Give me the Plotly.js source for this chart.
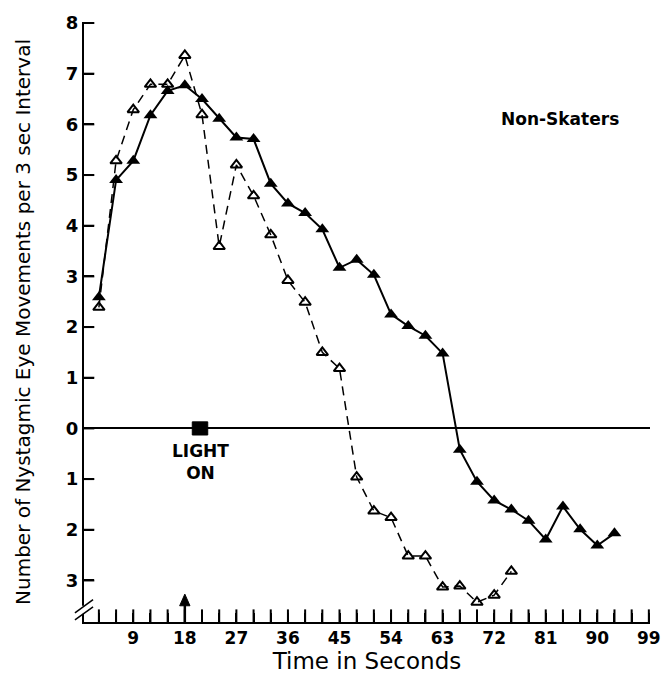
<!DOCTYPE html>
<html>
<head>
<meta charset="utf-8">
<script src="https://cdn.plot.ly/plotly-3.0.1.min.js"></script>
<style>html,body{margin:0;padding:0;background:#fff}#chart{width:669px;height:688px}</style>
</head>
<body>
<div id="chart"></div>
<script>
// Time (s) for each 3-second interval
const timeFilled = [3,6,9,12,15,18,21,24,27,30,33,36,39,42,45,48,51,54,57,60,63,66,69,72,75,78,81,84,87,90,93];
// Filled triangles, solid line
const valuesFilled = [2.59,4.90,5.28,6.18,6.66,6.77,6.50,6.11,5.74,5.71,4.83,4.44,4.25,3.93,3.17,3.33,3.03,2.25,2.02,1.83,1.48,-0.42,-1.05,-1.42,-1.60,-1.82,-2.19,-1.54,-1.99,-2.31,-2.07];
const timeOpen = [3,6,9,12,15,18,21,24,27,30,33,36,39,42,45,48,51,54,57,60,63,66,69,72,75];
// Open triangles, dashed line
const valuesOpen = [2.39,5.28,6.29,6.79,6.79,7.36,6.19,3.59,5.20,4.59,3.82,2.92,2.49,1.50,1.18,-0.96,-1.63,-1.76,-2.52,-2.52,-3.13,-3.11,-3.43,-3.29,-2.82];

const yTickVals = [8,7,6,5,4,3,2,1,0,-1,-2,-3];
const yTickText = ['8','7','6','5','4','3','2','1','0','1','2','3'];
const xTickVals = [3,6,9,12,15,18,21,24,27,30,33,36,39,42,45,48,51,54,57,60,63,66,69,72,75,78,81,84,87,90,93,96,99];
const xTickText = ['','','9','','','18','','','27','','','36','','','45','','','54','','','63','','','72','','','81','','','90','','','99'];

const lightOn = {x0: 19.3, x1: 22.0, label: 'LIGHT<br>ON'};
const arrowTime = 18;
const groupLabel = 'Non-Skaters';

const X0 = 0.4, X1 = 99.2;
const Y0 = -3.82, Y1 = 8.02;
const yp = v => (v - Y0) / (Y1 - Y0);
const yTickLenData = 1.8; // about 10 px inward along the time axis

// short horizontal segments for the count-axis ticks, built from the tick array
const yTickSegX = [], yTickSegY = [];
yTickVals.forEach(v => { yTickSegX.push(X0, X0 + yTickLenData, null); yTickSegY.push(v, v, null); });

const traces = [
  {
    x: timeOpen, y: valuesOpen, type: 'scatter', mode: 'lines+markers',
    line: {color: '#000', width: 1.5, dash: '9px,6px'},
    marker: {symbol: 'triangle-up-open', size: 10, color: '#000', line: {width: 2, color: '#000'}},
    hoverinfo: 'x+y', showlegend: false
  },
  {
    x: timeFilled, y: valuesFilled, type: 'scatter', mode: 'lines+markers',
    line: {color: '#000', width: 2},
    marker: {symbol: 'triangle-up', size: 12, color: '#000'},
    hoverinfo: 'x+y', showlegend: false
  },
  // inward tick marks on the time axis (half of each marker is clipped by the plot edge)
  {
    x: xTickVals, y: xTickVals.map(() => Y0), type: 'scatter', mode: 'markers', cliponaxis: true,
    marker: {symbol: 'line-ns-open', size: 18, color: '#000', line: {width: 2, color: '#000'}},
    hoverinfo: 'skip', showlegend: false
  },
  // inward tick marks on the count axis
  {
    x: yTickSegX, y: yTickSegY, type: 'scatter', mode: 'lines', connectgaps: false,
    line: {color: '#000', width: 2},
    hoverinfo: 'skip', showlegend: false
  }
];

const fontFam = '"DejaVu Sans", "Liberation Sans", sans-serif';

const layout = {
  width: 669, height: 688,
  margin: {l: 84, r: 19, t: 22, b: 66},
  showlegend: false,
  xaxis: {
    range: [X0, X1], showgrid: false, zeroline: false,
    showline: true, linecolor: '#000', linewidth: 2,
    tickmode: 'array', tickvals: xTickVals, ticktext: xTickText,
    ticks: 'inside', ticklen: 9, tickwidth: 2, tickcolor: '#000',
    tickfont: {family: fontFam, size: 17, color: '#000', weight: 'bold'},
    title: {text: 'Time in Seconds', font: {family: fontFam, size: 23, color: '#000'}, standoff: 4}
  },
  yaxis: {
    range: [Y0, Y1], showgrid: false,
    zeroline: true, zerolinecolor: '#000', zerolinewidth: 2,
    showline: true, linecolor: '#000', linewidth: 2,
    tickmode: 'array', tickvals: yTickVals, ticktext: yTickText,
    ticks: 'inside', ticklen: 10, tickwidth: 2, tickcolor: '#000',
    tickfont: {family: fontFam, size: 18, color: '#000', weight: 'bold'},
    title: {text: 'Number of Nystagmic Eye Movements per 3 sec Interval', font: {family: fontFam, size: 20, color: '#000'}, standoff: 30}
  },
  shapes: [
    // axis break gap
    {type: 'rect', xref: 'paper', yref: 'paper', x0: -0.01, x1: 0.01, y0: yp(-3.66), y1: yp(-3.50), fillcolor: '#fff', line: {width: 0}, layer: 'above'},
    {type: 'line', xref: 'paper', yref: 'paper', x0: -0.016, x1: 0.016, y0: yp(-3.78), y1: yp(-3.52), line: {color: '#000', width: 1.5}, layer: 'above'},
    {type: 'line', xref: 'paper', yref: 'paper', x0: -0.016, x1: 0.016, y0: yp(-3.64), y1: yp(-3.38), line: {color: '#000', width: 1.5}, layer: 'above'},
    // light-on block
    {type: 'rect', xref: 'x', yref: 'y', x0: lightOn.x0, x1: lightOn.x1, y0: -0.13, y1: 0.13, fillcolor: '#000', line: {color: '#000', width: 1}, layer: 'above'},
    // arrow at light onset time
    {type: 'line', xref: 'x', yref: 'y', x0: arrowTime, x1: arrowTime, y0: Y0, y1: -3.45, line: {color: '#000', width: 2.5}, layer: 'above'},
    {type: 'path', xref: 'x', yref: 'y', path: `M ${arrowTime-0.9} -3.5 L ${arrowTime} -3.27 L ${arrowTime+0.9} -3.5 Z`, fillcolor: '#000', line: {color: '#000', width: 1}, layer: 'above'}
  ],
  annotations: [
    {x: (lightOn.x0 + lightOn.x1) / 2, y: -0.2, xref: 'x', yref: 'y', text: lightOn.label, showarrow: false, yanchor: 'top',
     font: {family: fontFam, size: 17, color: '#000', weight: 'bold'}, align: 'center'},
    {x: 83.5, y: 6.1, xref: 'x', yref: 'y', text: groupLabel, showarrow: false,
     font: {family: fontFam, size: 17, color: '#000', weight: 'bold'}}
  ]
};

Plotly.newPlot('chart', traces, layout, {displayModeBar: false});
</script>
</body>
</html>
